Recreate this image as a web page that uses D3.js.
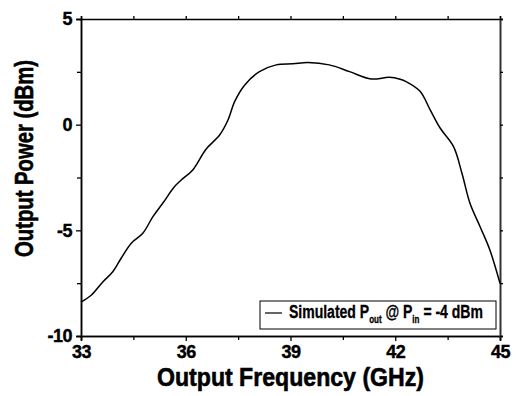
<!DOCTYPE html>
<html>
<head>
<meta charset="utf-8">
<script src="https://cdn.jsdelivr.net/npm/d3@7"></script>
<style>
  body { margin: 0; background: #fff; }
  svg { display: block; }
  text { font-family: Arial, "Liberation Sans", sans-serif; font-weight: bold; fill: #000; }
</style>
</head>
<body>
<svg width="516" height="396"></svg>
<script>
const freq = [33.0, 33.3, 33.63, 33.91, 34.15, 34.44, 34.77, 35.06, 35.34, 35.68, 35.87, 36.2,
  36.58, 36.97, 37.21, 37.4, 37.69, 38.11, 38.59, 39.07, 39.5, 40.11, 40.69, 41.31, 41.83,
  42.14, 42.31, 42.71, 43.0, 43.29, 43.67, 43.91, 44.14, 44.43, 44.71, 45.0];
const pout = [-8.4, -8.06, -7.43, -6.96, -6.32, -5.61, -5.14, -4.35, -3.72, -2.93, -2.62, -2.14,
  -1.16, -0.49, 0.22, 1.09, 1.88, 2.51, 2.83, 2.88, 2.94, 2.83, 2.51, 2.16, 2.24,
  2.15, 2.04, 1.58, 0.7, -0.17, -1.04, -2.3, -3.72, -4.83, -5.93, -7.51];

const xTicks = [33, 36, 39, 42, 45];
const xMinor = [34.5, 37.5, 40.5, 43.5];
const yTicks = [-10, -5, 0, 5];
const yMinor = [-7.5, -2.5, 2.5];

const svg = d3.select("svg");
const mLeft = 81, mRight = 500, mTop = 19, mBottom = 336;

const x = d3.scaleLinear().domain([33, 45]).range([mLeft, mRight]);
const y = d3.scaleLinear().domain([-10, 5]).range([mBottom, mTop]);

function styleAxis(g) {
  g.select(".domain").attr("stroke", "#000").attr("stroke-width", 1.5);
  g.selectAll(".tick line").attr("stroke", "#000").attr("stroke-width", 1.3);
  g.selectAll(".tick text").attr("font-size", 18).attr("font-family", "Arial, 'Liberation Sans', sans-serif")
    .attr("font-weight", "bold").attr("fill", "#000")
    .attr("stroke", "#000").attr("stroke-width", 0.4)
    .attr("letter-spacing", -0.5);
}

// bottom axis
svg.append("g")
  .attr("transform", `translate(0,${mBottom})`)
  .call(d3.axisBottom(x).tickValues(xTicks).tickSize(5).tickPadding(4).tickFormat(d => String(d)))
  .call(styleAxis);
svg.append("g")
  .attr("transform", `translate(0,${mBottom})`)
  .call(d3.axisBottom(x).tickValues(xMinor).tickSize(4).tickFormat(""))
  .call(styleAxis);

// left axis
svg.append("g")
  .attr("transform", `translate(${mLeft},0)`)
  .call(d3.axisLeft(y).tickValues(yTicks).tickSize(5).tickPadding(4).tickFormat(d => String(d)))
  .call(styleAxis);
svg.append("g")
  .attr("transform", `translate(${mLeft},0)`)
  .call(d3.axisLeft(y).tickValues(yMinor).tickSize(4).tickFormat(""))
  .call(styleAxis);

// top and right mirror axes
svg.append("g")
  .attr("transform", `translate(0,${mTop})`)
  .call(d3.axisTop(x).tickValues(xTicks.concat(xMinor)).tickSize(3).tickFormat(""))
  .call(styleAxis);
svg.append("g")
  .attr("transform", `translate(${mRight},0)`)
  .call(d3.axisRight(y).tickValues(yTicks.concat(yMinor)).tickSize(3).tickFormat(""))
  .call(styleAxis)
  .call(g => g.select(".domain").attr("stroke", "#333").attr("stroke-width", 2));

// curve
const line = d3.line()
  .x((d, i) => x(freq[i]))
  .y(d => y(d))
  .curve(d3.curveCatmullRom.alpha(0.5));

svg.append("path")
  .datum(pout)
  .attr("fill", "none")
  .attr("stroke", "#000")
  .attr("stroke-width", 1.5)
  .attr("d", line);

// axis titles
svg.append("text")
  .attr("x", 290.5)
  .attr("y", 386)
  .attr("text-anchor", "middle")
  .attr("font-size", 25.5)
  .attr("stroke", "#000").attr("stroke-width", 0.6)
  .attr("textLength", 267)
  .attr("lengthAdjust", "spacingAndGlyphs")
  .text("Output Frequency (GHz)");

svg.append("text")
  .attr("transform", "translate(33,158.5) rotate(-90)")
  .attr("text-anchor", "middle")
  .attr("font-size", 25)
  .attr("stroke", "#000").attr("stroke-width", 0.6)
  .attr("textLength", 197)
  .attr("lengthAdjust", "spacingAndGlyphs")
  .text("Output Power (dBm)");

// legend
const leg = svg.append("g");
leg.append("rect")
  .attr("x", 260).attr("y", 301).attr("width", 236).attr("height", 28)
  .attr("fill", "#fff").attr("stroke", "#000").attr("stroke-width", 1);
leg.append("line")
  .attr("x1", 265).attr("x2", 282).attr("y1", 313).attr("y2", 313)
  .attr("stroke", "#000").attr("stroke-width", 1.2);
const lt = leg.append("text")
  .attr("font-size", 17.5)
  .attr("stroke", "#000").attr("stroke-width", 0.3);
lt.append("tspan").text("Simulated P");
lt.append("tspan").attr("font-size", 10).attr("dy", 5).text("out");
lt.append("tspan").attr("dy", -5).text(" @ P");
lt.append("tspan").attr("font-size", 10).attr("dy", 5).text("in");
lt.append("tspan").attr("dy", -5).text(" = -4 dBm");
// squeeze the legend label to the narrow width seen in the reference
const natural = lt.node().getComputedTextLength();
lt.attr("transform", `translate(289,318) scale(${194 / natural},1)`);
</script>
</body>
</html>
